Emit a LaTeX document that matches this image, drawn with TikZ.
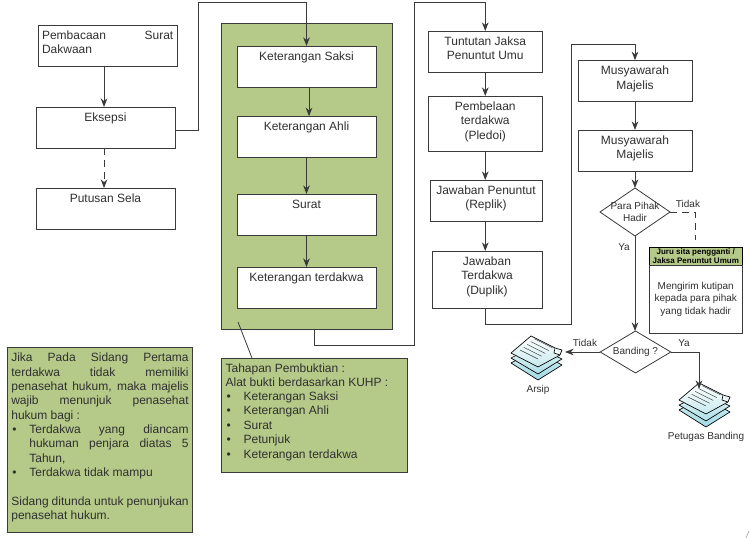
\documentclass[tikz,border=0pt]{standalone}
\usepackage{fontspec}
\setmainfont{Liberation Sans}
\usepackage{enumitem}
\usetikzlibrary{shapes.geometric,arrows.meta,positioning}
\definecolor{panelgreen}{RGB}{181, 202, 136}
\definecolor{linegray}{RGB}{58, 58, 58}
\definecolor{textgray}{RGB}{48, 48, 48}
\definecolor{sheetblue}{RGB}{160, 218, 228}
\newcommand{\mainfont}{\fontsize{9}{10.75}\selectfont}
\newcommand{\smallfont}{\fontsize{7.5}{9.2}\selectfont}
\newcommand{\tinyfont}{\fontsize{6}{7.1}\selectfont\bfseries}
\newcommand{\steptext}[3]{\parbox[c][#2][t]{#1}{\centering\rule{0pt}{11pt}#3}}
\tikzset{
    stepbox/.style={draw=linegray, fill=white, line width=0.6pt, inner sep=0pt, outer sep=0pt, text=textgray, font=\mainfont},
    greenbox/.style={draw=linegray, fill=panelgreen, line width=0.6pt, inner xsep=3pt, inner ysep=0pt, outer sep=0pt, text=textgray, font=\mainfont},
    decision/.style={diamond, draw=linegray, fill=white, line width=0.6pt, inner sep=-14pt, outer sep=0pt, align=center, text=textgray, font=\smallfont},
    flowline/.style={draw=linegray, line width=0.7pt, -{Stealth[length=6.5pt,width=5pt]}},
    plainline/.style={draw=linegray, line width=0.7pt},
    dashline/.style={draw=linegray, line width=0.7pt, dash pattern=on 5pt off 4pt},
    caption/.style={text=textgray, font=\smallfont, inner sep=0pt},
    iconbox/.style={minimum width=39pt, minimum height=21pt, inner sep=0pt, outer sep=0pt},
    sheet/.style={draw=black, line width=0.5pt, line join=round},
    docstack/.pic={
        \path[sheet, top color=sheetblue!45, bottom color=sheetblue] (-28,7) -- (-4,-6) -- (23,9) -- (-1,24) -- cycle;
        \path[sheet, top color=sheetblue!30, bottom color=sheetblue!85] (-28,2) -- (-4,-10) -- (23,3) -- (-1,18) -- cycle;
        \path[sheet, top color=white, bottom color=sheetblue!60] (-28,-3) -- (-8,-20) -- (16,-8) -- (23,-6) -- (21,-1) -- (-1,11) -- cycle;
        \draw[sheet, fill=white] (16,-8) -- (15,-3) -- (21,-1);
        \foreach \i in {0,1,2,3,4}
            \draw[linegray, line width=0.35pt] (-19+3.6*\i,-6-2.8*\i) -- (-1+3.6*\i,3-2.8*\i);
    }
}

\begin{document}
\begin{tikzpicture}[x=0.75pt, y=-0.75pt]
    \useasboundingbox (0,0) rectangle (750,538);

    \node[stepbox] (dakwaan) at (107.5,45.5) {\parbox[c][30.75pt][t]{104.25pt}{\hspace*{3pt}\parbox[t]{98.5pt}{\rule{0pt}{11pt}Pembacaan\hfill Surat\\Dakwaan}}};
    \node[stepbox] (eksepsi) at (105.5,127.5) {\steptext{104.25pt}{30.75pt}{Eksepsi}};
    \node[stepbox] (sela) at (105.5,208.5) {\steptext{104.25pt}{30.75pt}{Putusan Sela}};

    \node[draw=linegray, fill=panelgreen, line width=0.6pt, minimum width=128.25pt, minimum height=229.5pt, inner sep=0pt, outer sep=0pt] (panel) at (306.5,176) {};
    \node[stepbox] (saksi) at (306.5,66.5) {\steptext{104.25pt}{30.75pt}{Keterangan Saksi}};
    \node[stepbox] (ahli) at (306.5,136.75) {\steptext{104.25pt}{30.75pt}{Keterangan Ahli}};
    \node[stepbox] (surat) at (306.5,214.5) {\steptext{104.25pt}{30.75pt}{Surat}};
    \node[stepbox] (terdakwa) at (306.5,287.5) {\steptext{104.25pt}{30.75pt}{Keterangan terdakwa}};

    \node[stepbox] (tuntutan) at (485.25,51.5) {\steptext{85.1pt}{30.75pt}{Tuntutan Jaksa\\Penuntut Umu}};
    \node[stepbox] (pledoi) at (485.25,123.5) {\steptext{85.1pt}{41.25pt}{Pembelaan\\terdakwa\\(Pledoi)}};
    \node[stepbox] (replik) at (486,200.5) {\steptext{84pt}{30.75pt}{Jawaban Penuntut\\(Replik)}};
    \node[stepbox] (duplik) at (487,279.5) {\steptext{82.5pt}{42.75pt}{Jawaban\\Terdakwa\\(Duplik)}};

    \node[stepbox] (musyawarahA) at (635,80.75) {\steptext{85.5pt}{30.75pt}{Musyawarah\\Majelis}};
    \node[stepbox] (musyawarahB) at (635,150.5) {\steptext{85.5pt}{30.75pt}{Musyawarah\\Majelis}};
    \node[decision, minimum width=52.5pt, minimum height=36pt] (hadir) at (635,212) {Para Pihak\\Hadir};
    \node[decision, minimum width=52.9pt, minimum height=31.5pt] (banding) at (635.5,352) {Banding ?};

    \node[draw=black, fill=panelgreen, line width=0.6pt, minimum width=69.4pt, minimum height=13pt, inner sep=0pt, outer sep=0pt, align=center, font=\tinyfont, text=black] (juruhead) at (695.75,256.25) {Juru sita pengganti /\\Jaksa Penuntut Umum};
    \node[draw=linegray, fill=white, line width=0.6pt, minimum width=69.4pt, minimum height=51.4pt, inner sep=0pt, outer sep=0pt, align=center, font=\smallfont, text=textgray, below=0pt of juruhead] (jurubody) {Mengirim kutipan\\kepada para pihak\\yang tidak hadir};

    \node[iconbox] (arsip) at (539,356) {};
    \pic at (arsip) {docstack};
    \node[iconbox] (petugas) at (707,403) {};
    \pic at (petugas) {docstack};
    \node[caption] (arsiplabel) at (538,390) {Arsip};
    \node[caption] (petugaslabel) at (706,437) {Petugas Banding};

    \node[caption] (tidakA) at (688,204) {Tidak};
    \node[caption] (yaA) at (624,247) {Ya};
    \node[caption] (tidakB) at (585,343) {Tidak};
    \node[caption] (yaB) at (684,343) {Ya};

    \node[greenbox] (catatan) at (100,440) {
        \begin{minipage}[c][138.4pt][t]{133pt}
            \rule{0pt}{10.5pt}Jika Pada Sidang Pertama\linebreak terdakwa tidak memiliki\linebreak penasehat hukum, maka majelis\linebreak wajib menunjuk penasehat\linebreak hukum bagi :
            \begin{itemize}[nosep, leftmargin=13.5pt, labelsep=9.5pt]
                \item Terdakwa yang diancam\linebreak hukuman penjara diatas 5\linebreak Tahun,
                \item Terdakwa tidak mampu
            \end{itemize}
            \vspace{10.75pt}
            Sidang ditunda untuk penunjukan\linebreak penasehat hukum.
        \end{minipage}
    };
    \node[greenbox] (tahapan) at (314.25,415) {
        \begin{minipage}[c][85.5pt][t]{133pt}
            \rule{0pt}{10.5pt}Tahapan Pembuktian :\\
            Alat bukti berdasarkan KUHP :
            \begin{itemize}[nosep, leftmargin=13.5pt, labelsep=9.5pt]
                \item Keterangan Saksi
                \item Keterangan Ahli
                \item Surat
                \item Petunjuk
                \item Keterangan terdakwa
            \end{itemize}
        \end{minipage}
    };

    \coordinate (turnA) at (198,2);
    \coordinate (turnB) at (414,345);
    \coordinate (turnC) at (414,2);
    \coordinate (turnD) at (571,324);
    \coordinate (turnE) at (571,44);
    \coordinate (jurustop) at (695,240);
    \coordinate (calloutstart) at (238,322);
    \coordinate (markA) at (746,538);
    \coordinate (markB) at (749,531);

    \draw[flowline] ([xshift=-2.6pt]dakwaan.south) -- ([xshift=-1.1pt]eksepsi.north);
    \draw[dashline, -{Stealth[length=6.5pt,width=5pt]}] ([xshift=-1.1pt]eksepsi.south) -- ([xshift=-1.1pt]sela.north);
    \draw[flowline] ([yshift=-1.9pt]eksepsi.east) -| (turnA) -| (saksi.north);
    \draw[flowline] ([xshift=1.9pt]saksi.south) -- ([xshift=1.9pt]ahli.north);
    \draw[flowline] (ahli.south) -- (surat.north);
    \draw[flowline] (surat.south) -- (terdakwa.north);
    \draw[plainline] ([xshift=5.6pt]panel.south) |- (turnB) -- (turnC);
    \draw[flowline] (turnC) -| (tuntutan.north);
    \draw[flowline] (tuntutan.south) -- (pledoi.north);
    \draw[flowline] (pledoi.south) -- (pledoi.south |- replik.north);
    \draw[flowline] (pledoi.south |- replik.south) -- (pledoi.south |- duplik.north);
    \draw[plainline] (pledoi.south |- duplik.south) |- (turnD) -- (turnE);
    \draw[flowline] (turnE) -| (musyawarahA.north);
    \draw[flowline] (musyawarahA.south) -- (musyawarahB.north);
    \draw[flowline] (musyawarahB.south) -- (hadir.north);
    \draw[flowline] (hadir.south) -- (hadir.south |- banding.north);
    \draw[dashline] (hadir.east) -| (jurustop);
    \draw[flowline] (banding.west) -- (banding.west -| arsip.east);
    \draw[flowline] (banding.east) -| ([xshift=-6pt]petugas.north);
    \draw[linegray, line width=0.6pt] (calloutstart) -- ([xshift=-46.7pt]tahapan.north);
    \draw[gray!60, line width=0.6pt] (markA) -- (markB);
\end{tikzpicture}
\end{document}
